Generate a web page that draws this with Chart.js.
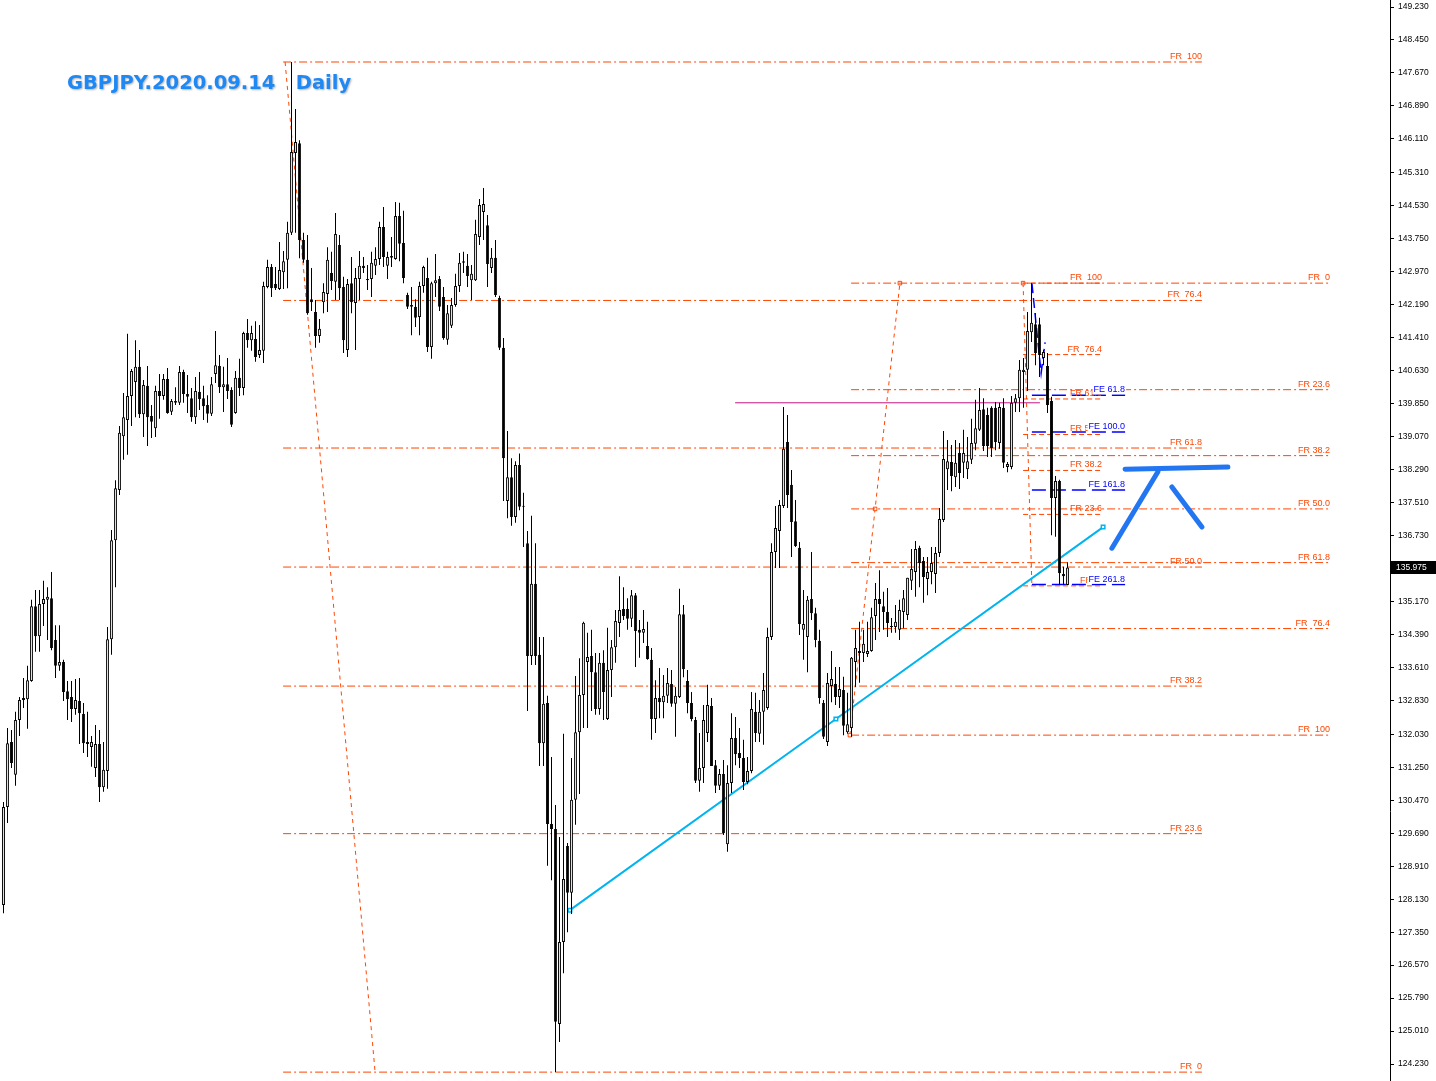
<!DOCTYPE HTML>
<html>
<head>
  <script src="https://cdn.jsdelivr.net/npm/chart.js"></script>
  <style>
    body { margin: 0; background: #ffffff; }
  </style>
</head>
<body>
  <canvas id="myChart" width="1436" height="1081"></canvas>
  <script>
    // GBPJPY daily candles, oldest first
    const opens = [
      127.99,130.31,131.85,131.07,132.37,132.84,132.86,133.29,135.06,134.35,
      135.11,135.21,135.25,134.26,133.65,133.74,133.05,132.91,132.63,132.82,
      132.51,131.85,131.73,131.23,131.80,130.78,131.16,134.28,136.62,137.81,
      139.08,139.46,140.03,140.36,140.72,139.60,140.27,139.56,139.27,140.15,
      140.03,140.43,139.66,139.91,139.87,140.60,140.08,139.98,139.53,140.13,
      139.98,139.82,139.61,140.55,140.74,140.24,140.31,140.17,139.63,140.46,
      140.22,141.52,141.35,141.38,141.00,141.10,142.61,143.08,142.68,142.56,
      142.96,143.25,143.89,145.78,146.01,143.72,143.25,142.32,142.02,141.45,
      142.25,142.44,142.94,142.73,143.60,142.61,141.12,142.70,142.23,142.80,
      143.11,142.80,142.80,143.11,143.27,144.03,143.11,143.34,143.27,144.29,
      143.65,142.42,142.18,142.14,141.90,142.63,142.82,141.19,142.70,142.80,
      142.37,141.36,141.69,142.18,142.63,143.18,143.11,142.77,142.77,143.79,
      144.38,144.07,143.06,143.30,142.35,141.17,137.55,138.11,137.17,138.40,
      137.43,136.55,133.88,135.59,133.91,131.82,132.77,129.91,129.79,125.18,
      127.12,129.39,128.28,130.48,132.08,132.96,133.74,133.88,133.50,132.63,
      133.72,132.39,133.55,134.09,134.66,134.99,134.99,134.76,135.32,134.50,
      134.43,134.12,133.79,132.39,132.89,132.79,132.94,133.22,132.75,132.91,
      134.87,133.29,132.77,132.37,130.93,131.23,132.06,132.70,131.30,130.81,
      131.09,129.43,130.88,131.94,131.59,131.47,130.90,131.16,132.56,132.04,
      132.56,132.65,134.33,136.34,136.84,137.43,138.94,137.93,137.07,136.44,
      134.50,134.33,135.23,134.89,134.24,132.77,131.85,133.17,133.22,132.91,
      133.08,132.08,132.18,133.74,133.95,133.95,133.93,134.00,134.83,135.23,
      135.06,134.92,134.57,134.57,134.50,134.92,134.85,135.66,135.87,136.44,
      136.13,135.70,135.87,135.82,136.32,137.10,138.30,138.47,138.11,138.68,
      138.45,138.30,138.52,138.90,139.23,139.72,139.58,139.75,139.75,138.92,
      139.75,138.35,138.35,139.87,139.98,140.60,140.65,141.54,141.73,141.73,
      140.93,140.74,139.91,137.62,138.02,135.82,135.56
    ];
    const highs = [
      130.43,132.18,132.13,132.56,132.91,133.36,133.65,135.21,135.44,135.44,
      135.66,135.51,135.87,134.61,134.61,133.79,133.29,133.29,133.34,133.36,
      132.77,132.56,131.99,132.25,132.13,131.85,134.57,136.86,138.04,139.32,
      140.10,141.50,140.67,141.35,141.12,140.41,140.74,139.82,140.27,140.55,
      140.55,140.69,139.96,140.24,140.74,140.65,140.53,140.22,140.48,140.60,
      140.27,140.05,140.48,141.57,141.00,140.72,140.93,140.24,140.62,140.91,
      141.55,141.85,141.69,141.80,141.71,142.73,143.25,143.15,143.08,143.67,
      143.46,144.15,147.93,146.82,146.08,143.89,143.84,143.06,142.30,141.85,
      142.70,143.55,143.44,144.36,143.84,142.85,142.80,143.32,143.06,143.46,
      143.32,143.13,143.44,143.55,144.15,144.50,143.44,143.79,144.62,144.60,
      144.41,142.47,142.61,142.32,142.73,143.11,143.30,142.73,143.39,142.87,
      142.61,142.18,142.35,142.92,143.41,143.44,143.39,143.13,144.20,144.69,
      144.95,144.31,143.53,143.72,142.40,141.40,139.20,138.56,138.49,138.67,
      137.74,136.84,137.20,136.55,134.33,134.33,132.94,131.49,130.36,129.60,
      132.04,129.46,131.47,133.41,133.83,134.69,134.43,134.50,133.95,133.95,
      134.02,134.55,134.26,134.97,135.77,135.51,135.25,135.44,135.37,134.73,
      134.97,134.69,134.07,133.31,133.60,133.43,133.60,133.55,133.15,135.47,
      135.09,133.55,133.03,132.44,132.06,132.72,133.20,132.89,131.42,131.21,
      131.42,131.30,132.53,132.44,132.18,131.90,131.49,133.03,133.01,132.84,
      133.48,134.55,136.55,137.43,137.57,139.77,139.58,138.28,137.57,136.58,
      135.44,135.30,136.34,135.02,134.50,132.84,133.48,134.00,133.62,133.62,
      133.39,133.01,133.86,134.50,134.69,134.50,134.69,135.02,135.61,135.91,
      135.40,135.49,134.78,135.09,135.21,135.44,135.73,136.41,136.60,136.49,
      136.22,136.22,136.46,136.46,137.38,139.20,138.99,138.87,138.99,138.92,
      139.23,139.06,139.49,139.94,140.22,139.98,139.75,139.79,139.89,139.87,
      139.98,138.47,140.03,140.08,140.88,140.93,142.02,142.70,141.99,141.88,
      141.12,141.05,140.01,138.14,138.05,135.99,136.10
    ];
    const lows = [
      127.80,129.93,131.23,130.81,131.99,132.65,132.16,133.27,133.98,133.98,
      134.59,134.26,134.02,133.36,133.53,132.82,132.37,132.32,132.49,131.80,
      131.59,131.49,131.26,131.02,130.43,130.67,130.74,133.91,135.51,137.69,
      138.52,138.64,139.32,139.53,139.51,139.06,138.85,139.04,139.06,139.49,
      139.94,139.61,139.58,139.82,139.82,139.87,139.63,139.42,139.37,139.70,
      139.46,139.40,139.56,140.34,140.10,139.65,139.96,139.30,139.61,140.03,
      140.05,141.17,141.10,140.84,140.93,140.81,142.58,142.37,142.54,142.54,
      142.56,142.58,143.84,143.89,143.29,143.18,141.95,142.04,141.17,141.29,
      141.99,142.02,142.54,142.30,142.30,141.05,140.95,141.99,141.12,142.30,
      142.94,142.54,142.37,142.89,143.13,143.08,142.80,143.08,143.25,143.22,
      142.70,142.09,141.47,141.66,141.47,142.47,141.07,140.91,142.37,142.04,
      141.36,141.24,141.64,142.14,142.49,142.94,142.61,142.30,142.75,143.60,
      143.72,142.61,142.94,142.37,141.12,137.55,137.14,136.96,137.03,137.33,
      136.46,132.58,133.67,133.67,131.28,131.28,128.92,128.58,124.04,124.75,
      126.38,127.35,127.78,129.89,130.62,132.18,132.18,132.58,132.49,132.49,
      132.37,132.37,132.91,133.72,134.33,134.73,134.50,134.57,133.62,133.84,
      134.19,133.79,131.90,132.06,132.41,132.41,132.77,132.68,131.97,132.89,
      133.38,132.53,132.34,130.88,130.67,130.88,131.85,131.28,130.64,130.71,
      129.65,129.25,130.64,131.30,131.23,130.71,130.85,131.11,131.85,131.85,
      131.78,132.61,134.26,135.96,135.96,137.38,137.38,136.22,136.46,134.38,
      133.79,133.50,134.73,134.09,132.75,131.92,131.75,132.79,132.72,132.65,
      132.01,132.04,131.97,133.15,133.25,133.74,133.86,133.98,134.26,134.45,
      134.50,134.33,134.43,134.43,134.26,134.54,134.73,135.44,135.28,135.51,
      135.14,135.32,135.58,135.37,136.22,137.05,137.81,137.78,137.88,137.83,
      138.09,138.07,138.42,138.75,139.20,138.73,138.59,138.59,138.75,138.78,
      138.33,138.23,138.30,139.65,139.65,139.75,140.15,141.31,140.76,140.48,
      140.76,139.63,136.74,136.70,135.56,135.56,135.56
    ];
    const closes = [
      130.31,131.82,131.35,132.37,132.84,132.89,133.31,135.06,134.35,135.11,
      135.23,135.28,134.07,133.65,133.74,133.03,132.86,132.63,132.84,132.53,
      131.82,131.80,131.85,131.80,130.78,131.19,134.28,136.62,137.85,139.16,
      139.53,140.03,140.62,140.72,139.60,140.29,139.53,139.42,140.15,140.03,
      140.43,139.63,139.91,139.87,140.60,140.08,140.01,139.53,140.15,139.96,
      139.79,139.61,140.31,140.76,140.24,140.31,140.15,139.35,140.46,140.22,
      141.52,141.35,141.52,140.95,141.12,142.63,143.08,142.58,142.58,143.01,
      143.22,143.89,145.80,146.04,143.72,143.25,141.99,142.25,141.45,141.62,
      142.49,143.25,142.75,143.86,142.58,141.35,142.68,142.25,142.82,143.11,
      143.06,142.77,143.18,143.27,144.03,143.32,143.32,143.30,144.29,143.63,
      142.82,142.14,142.14,141.88,142.63,143.08,141.19,142.70,142.77,142.14,
      141.40,141.99,142.18,142.63,143.18,143.22,142.87,142.92,143.86,144.55,
      144.57,143.15,143.30,142.42,141.17,138.56,138.11,137.17,138.40,137.41,
      137.41,133.88,135.59,133.88,131.82,132.75,129.91,129.79,125.23,127.12,
      128.61,128.28,130.48,132.08,132.96,134.67,133.86,133.50,132.63,133.72,
      133.03,133.55,134.09,134.71,134.97,134.83,134.76,135.32,134.47,134.43,
      134.52,133.81,132.39,132.89,132.79,132.94,133.24,132.75,132.94,134.87,
      133.57,132.77,132.39,130.93,131.23,132.37,132.72,131.28,130.81,131.09,
      129.69,130.88,131.94,131.56,131.47,130.90,131.16,132.63,132.06,132.56,
      133.08,134.33,136.34,136.91,137.45,138.78,137.69,137.05,136.48,134.64,
      134.64,135.21,134.89,134.26,132.89,131.97,133.24,133.34,132.91,133.10,
      132.23,132.27,133.84,134.07,134.00,134.17,134.00,134.80,135.23,135.11,
      134.92,134.66,134.57,134.69,134.97,135.25,135.73,135.94,136.41,136.08,
      135.75,135.87,136.08,136.32,137.12,138.54,138.49,138.14,138.45,138.21,
      138.68,138.49,138.92,139.27,139.70,138.85,138.85,138.80,138.94,139.77,
      138.45,138.42,139.87,139.98,140.65,140.65,141.57,141.76,141.05,141.00,
      141.07,139.82,137.62,138.02,135.84,135.77,135.975
    ];

    const priceTicks = [149.23,148.45,147.67,146.89,146.11,145.31,144.53,143.75,142.97,142.19,
      141.41,140.63,139.85,139.07,138.29,137.51,136.73,135.95,135.17,134.39,133.61,132.83,
      132.03,131.25,130.47,129.69,128.91,128.13,127.35,126.57,125.79,125.01,124.23];
    const lastPrice = 135.975;
    const chartTitle = 'GBPJPY.2020.09.14   Daily';

    // fibonacci retracements: levels 0, 23.6, 38.2, 50, 61.8, 76.4, 100
    const frNames = ['FR  0','FR 23.6','FR 38.2','FR 50.0','FR 61.8','FR  76.4','FR  100'];
    const fib1Levels = [124.04,129.68,133.17,135.985,138.80,142.29,147.93];
    const fib1Span = [69.9, 299.6];
    const fib1Anchor = [[70.4,147.93],[92.9,124.04]];
    const fib2Levels = [142.70,140.18,138.62,137.36,136.09,134.53,132.01];
    const fib2Span = [211.9, 331.6];
    const fib2Anchor = [[211.6,132.01],[217.9,137.36],[224.1,142.70]];
    const fib3Levels = [135.54,137.23,138.27,139.12,139.96,141.01,142.70];
    const fib3Span = [254.9, 274.6];
    const fib3Anchor = [[254.9,142.70],[257.1,135.54]];

    // fibonacci expansion
    const feNames = ['FE 61.8','FE 100.0','FE 161.8','FE 261.8'];
    const feLevels = [140.05,139.18,137.81,135.57];
    const feSpan = [257.1, 280.4];
    const fePath = [[257.1,142.70],[259.4,140.57],[260.4,141.30]];

    const trendPoints = [[141.6,127.87],[208.1,132.39],[274.9,136.93]];
    const resistance = [[182.9,139.87],[259.1,139.87]];
    const sketchLines = [
      [[280.4,138.30],[306.1,138.35]],
      [[277.1,136.43],[288.6,138.24]],
      [[292.1,137.88],[299.6,136.93]]
    ];

    const FIB_COLOR = '#FF4500';

    function seg(points) {
      return points.map(p => ({x: p[0], y: p[1]}));
    }

    function levelLines(levels, span, color, dash, width) {
      return levels.map(v => ({
        type: 'line',
        data: [{x: span[0], y: v}, {x: span[1], y: v}],
        borderColor: color,
        borderWidth: width,
        borderDash: dash,
        pointRadius: 0,
        order: 5
      }));
    }

    const bodyData = opens.map((o, i) => ({x: i, y: [o, closes[i]]}));
    const wickData = lows.map((l, i) => ({x: i, y: [l, highs[i]]}));
    const bodyColors = opens.map((o, i) => closes[i] >= o ? '#ffffff' : '#000000');

    const datasets = [
      {
        type: 'bar', data: bodyData, backgroundColor: bodyColors, borderColor: '#000000',
        borderWidth: 1, borderSkipped: false, maxBarThickness: 3, grouped: false,
        minBarLength: 1, inflateAmount: 0, order: 0
      },
      {
        type: 'bar', data: wickData, backgroundColor: '#000000', borderWidth: 0,
        maxBarThickness: 1, grouped: false, inflateAmount: 0, order: 1
      }
    ];

    const dashDot = [8, 3, 2, 3];
    datasets.push(...levelLines(fib1Levels, fib1Span, FIB_COLOR, dashDot, 1));
    datasets.push(...levelLines(fib2Levels, fib2Span, FIB_COLOR, dashDot, 1));
    datasets.push(...levelLines(fib3Levels, fib3Span, FIB_COLOR, [5, 3], 1));
    datasets.push(...levelLines(feLevels, feSpan, '#0000FF', [14, 6], 1.5));

    datasets.push({
      type: 'line', data: seg(fib1Anchor), borderColor: FIB_COLOR, borderWidth: 1,
      borderDash: [4, 4], pointRadius: 0, order: 5
    });
    datasets.push({
      type: 'line', data: seg(fib2Anchor), borderColor: FIB_COLOR, borderWidth: 1,
      borderDash: [4, 4], pointStyle: 'rect', pointRadius: 2.5, pointBorderWidth: 1,
      pointBorderColor: FIB_COLOR, pointBackgroundColor: '#ffffff', order: 5
    });
    datasets.push({
      type: 'line', data: seg(fib3Anchor), borderColor: FIB_COLOR, borderWidth: 1,
      borderDash: [4, 4], pointStyle: 'rect', pointRadius: [2.5, 0], pointBorderWidth: 1,
      pointBorderColor: FIB_COLOR, pointBackgroundColor: '#ffffff', order: 5
    });
    datasets.push({
      type: 'line', data: seg(fePath), borderColor: '#0000FF', borderWidth: 1.5,
      borderDash: [10, 5], pointRadius: 0, order: 5
    });
    datasets.push({
      type: 'line', data: seg(resistance), borderColor: '#C71585', borderWidth: 1,
      pointRadius: 0, order: 5
    });
    datasets.push({
      type: 'line', data: seg(trendPoints), borderColor: '#00B4F0', borderWidth: 2,
      pointStyle: 'rect', pointRadius: 2.5, pointBorderWidth: 1.5,
      pointBorderColor: '#00B4F0', pointBackgroundColor: '#ffffff', order: 4
    });
    sketchLines.forEach(s => datasets.push({
      type: 'line', data: seg(s), borderColor: '#2276F2', borderWidth: 5,
      borderCapStyle: 'round', pointRadius: 0, order: 4
    }));

    // text drawn on top: fib labels, price box, title
    const overlay = {
      id: 'overlay',
      afterDraw(chart) {
        const {ctx, scales: {x, y}} = chart;
        ctx.save();
        ctx.font = '9px "Liberation Sans"';
        ctx.textAlign = 'right';
        ctx.textBaseline = 'bottom';

        const drawLabels = (levels, names, endIdx, color, bg) => {
          levels.forEach((v, i) => {
            const px = x.getPixelForValue(endIdx);
            const py = y.getPixelForValue(v) - 1;
            if (bg) {
              const w = ctx.measureText(names[i]).width;
              ctx.fillStyle = '#ffffff';
              ctx.fillRect(px - w - 1, py - 10, w + 2, 10);
            }
            ctx.fillStyle = color;
            ctx.fillText(names[i], px, py);
          });
        };
        drawLabels(fib1Levels, frNames, fib1Span[1], FIB_COLOR, false);
        drawLabels(fib2Levels, frNames, fib2Span[1], FIB_COLOR, false);
        drawLabels(fib3Levels, frNames, fib3Span[1], FIB_COLOR, false);
        drawLabels(feLevels, feNames, feSpan[1], '#0000FF', true);

        // last price tag on the axis
        const ly = Math.round(y.getPixelForValue(lastPrice));
        ctx.fillStyle = '#000000';
        ctx.fillRect(chart.chartArea.right + 1, ly - 6, 46, 13);
        ctx.fillStyle = '#ffffff';
        ctx.textAlign = 'left';
        ctx.textBaseline = 'middle';
        ctx.font = '8.5px "Liberation Sans"';
        ctx.fillText(lastPrice.toFixed(3), chart.chartArea.right + 6, ly + 1);

        // chart title
        ctx.font = 'bold 19.5px "DejaVu Sans"';
        ctx.shadowColor = 'rgba(0,0,0,0.3)';
        ctx.shadowOffsetX = 1;
        ctx.shadowOffsetY = 1;
        ctx.shadowBlur = 2;
        ctx.fillStyle = '#1E88F5';
        ctx.fillText(chartTitle, 67, 84);
        ctx.restore();
      }
    };

    window.onload = function() {
      const ctx = document.getElementById('myChart').getContext('2d');
      new Chart(ctx, {
        type: 'bar',
        data: { datasets: datasets },
        options: {
          responsive: false,
          devicePixelRatio: 1,
          animation: false,
          events: [],
          layout: { padding: 0, autoPadding: false },
          plugins: { legend: { display: false }, tooltip: { enabled: false } },
          scales: {
            x: {
              type: 'linear', min: -0.875, max: 346.625, offset: false, display: false,
              grid: { offset: false }
            },
            y: {
              type: 'linear', position: 'right', min: 123.83, max: 149.396,
              beginAtZero: false,
              afterBuildTicks: scale => { scale.ticks = priceTicks.map(v => ({value: v})); },
              afterFit: scale => {
                scale.width = 46;
                scale.paddingTop = 0;
                scale.paddingBottom = 0;
              },
              border: { display: true, color: '#000000', width: 1 },
              grid: { drawOnChartArea: false, drawTicks: true, tickLength: 4, color: '#000000' },
              ticks: {
                autoSkip: false, padding: 4, color: '#000000',
                font: { family: '"Liberation Sans"', size: 8.5 },
                callback: v => v.toFixed(3)
              }
            }
          }
        },
        plugins: [overlay]
      });
    };
  </script>
</body>
</html>
